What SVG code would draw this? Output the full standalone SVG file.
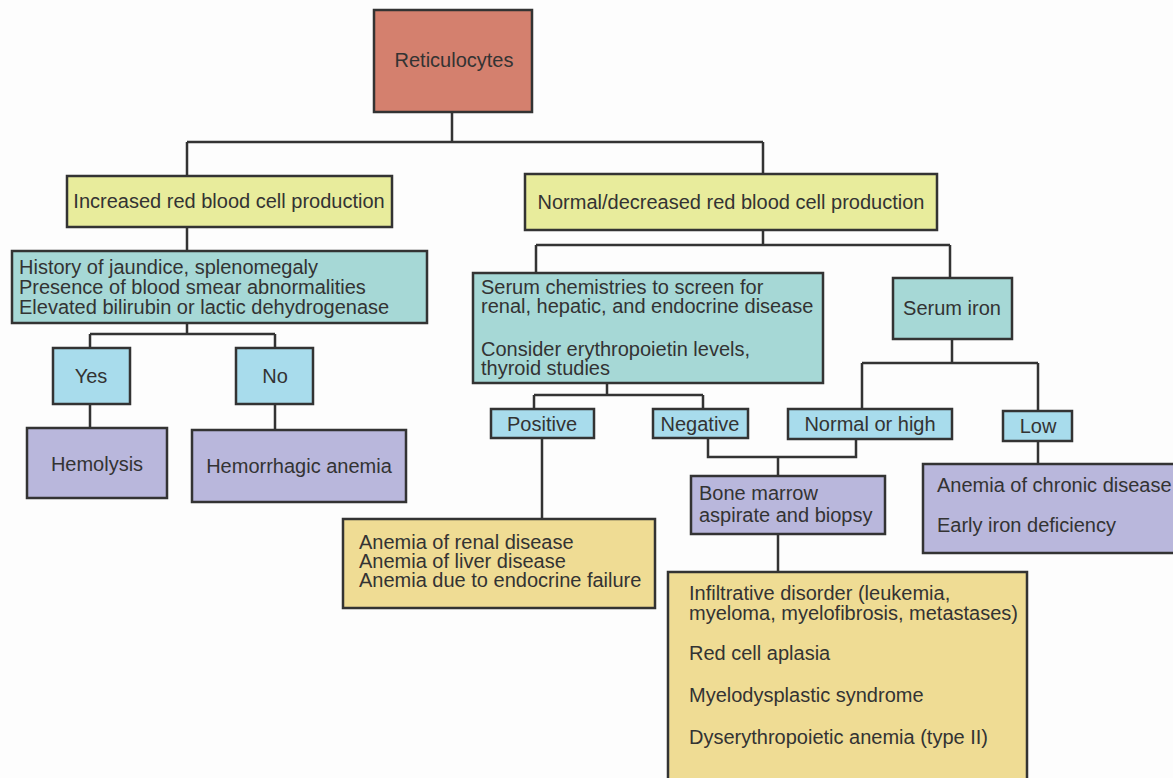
<svg xmlns="http://www.w3.org/2000/svg" width="1173" height="778" viewBox="0 0 1173 778">
<style>
rect{stroke:#333;stroke-width:2.5}
.red{fill:#d4806e}
.lime{fill:#e8ec9c}
.teal{fill:#a6d8d6}
.blue{fill:#a8dcec}
.lav{fill:#b9b7dc}
.yel{fill:#efdc94}
text{font-family:"Liberation Sans",Arial,sans-serif;font-size:20px;fill:#333}
.c{text-anchor:middle}
#connectors path{fill:none;stroke:#333;stroke-width:2.5}
</style>
<rect width="1173" height="778" fill="#fdfdfd" style="stroke:none"/>
<g id="connectors">
<path d="M452 112V142M187 142H763M187 142V176M763 142V174"/>
<path d="M187 227V251"/>
<path d="M763 230V245M536 245H950M536 245V273M950 245V278"/>
<path d="M187 323V334M90 334H275M90 334V348M275 334V348"/>
<path d="M90 404V428M275 404V430"/>
<path d="M607 383V395M534 395H703M534 395V409M703 395V409"/>
<path d="M542 438V519"/>
<path d="M952 339V363M862 363H1038M862 363V409M1038 363V411"/>
<path d="M708 438V457H856V439M778 457V476"/>
<path d="M778 534V572"/>
<path d="M1038 441V464"/>
</g>
<g id="reticulocytes"><rect class="red" x="374" y="10" width="158" height="102"/><text class="c" x="454" y="67">Reticulocytes</text></g>
<g id="increased"><rect class="lime" x="67" y="176" width="325" height="51"/><text class="c" x="229" y="208">Increased red blood cell production</text></g>
<g id="normal-decreased"><rect class="lime" x="525" y="174" width="412" height="56"/><text class="c" x="731" y="209">Normal/decreased red blood cell production</text></g>
<g id="history"><rect class="teal" x="12" y="251" width="415" height="72"/>
<text x="19" y="274">History of jaundice, splenomegaly</text>
<text x="19" y="294">Presence of blood smear abnormalities</text>
<text x="19" y="314">Elevated bilirubin or lactic dehydrogenase</text></g>
<g id="yes"><rect class="blue" x="53" y="348" width="77" height="56"/><text class="c" x="91" y="383">Yes</text></g>
<g id="no"><rect class="blue" x="236" y="348" width="77" height="56"/><text class="c" x="275" y="383">No</text></g>
<g id="hemolysis"><rect class="lav" x="27" y="428" width="140" height="70"/><text class="c" x="97" y="471">Hemolysis</text></g>
<g id="hemorrhagic"><rect class="lav" x="192" y="430" width="214" height="72"/><text class="c" x="299" y="473">Hemorrhagic anemia</text></g>
<g id="serum-chem"><rect class="teal" x="473" y="273" width="350" height="110"/>
<text x="481" y="294">Serum chemistries to screen for</text>
<text x="481" y="313">renal, hepatic, and endocrine disease</text>
<text x="481" y="356">Consider erythropoietin levels,</text>
<text x="481" y="375">thyroid studies</text></g>
<g id="serum-iron"><rect class="teal" x="893" y="278" width="119" height="61"/><text class="c" x="952" y="315">Serum iron</text></g>
<g id="positive"><rect class="blue" x="491" y="409" width="103" height="29"/><text class="c" x="542" y="431">Positive</text></g>
<g id="negative"><rect class="blue" x="653" y="409" width="95" height="29"/><text class="c" x="700" y="431">Negative</text></g>
<g id="normal-high"><rect class="blue" x="788" y="409" width="164" height="30"/><text class="c" x="870" y="431">Normal or high</text></g>
<g id="low"><rect class="blue" x="1003" y="411" width="69" height="30"/><text class="c" x="1038" y="433">Low</text></g>
<g id="bone-marrow"><rect class="lav" x="691" y="476" width="194" height="58"/>
<text x="699" y="500">Bone marrow</text>
<text x="699" y="522">aspirate and biopsy</text></g>
<g id="chronic"><rect class="lav" x="923" y="464" width="260" height="89"/>
<text x="937" y="492">Anemia of chronic disease</text>
<text x="937" y="532">Early iron deficiency</text></g>
<g id="renal"><rect class="yel" x="343" y="519" width="312" height="89"/>
<text x="359" y="549">Anemia of renal disease</text>
<text x="359" y="568">Anemia of liver disease</text>
<text x="359" y="587">Anemia due to endocrine failure</text></g>
<g id="infiltrative"><rect class="yel" x="668" y="572" width="359" height="210"/>
<text x="689" y="600">Infiltrative disorder (leukemia,</text>
<text x="689" y="620">myeloma, myelofibrosis, metastases)</text>
<text x="689" y="660">Red cell aplasia</text>
<text x="689" y="702">Myelodysplastic syndrome</text>
<text x="689" y="744">Dyserythropoietic anemia (type II)</text></g>
</svg>
